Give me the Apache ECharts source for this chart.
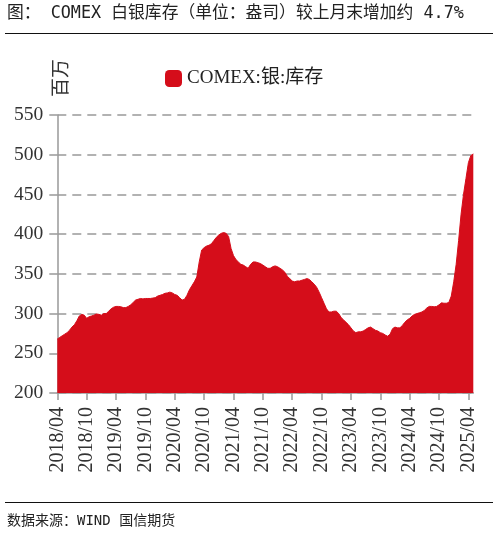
<!DOCTYPE html>
<html>
<head>
<meta charset="utf-8">
<script src="https://cdn.jsdelivr.net/npm/echarts@6/dist/echarts.min.js"></script>
<style>
html,body{margin:0;padding:0;background:#fff;}
#chart{width:499px;height:535px;}
</style>
</head>
<body>
<div id="chart"></div>
<script>
// Semi-monthly categories from 2018/04 to 2025/05
var categories = [];
for (var y = 2018, mo = 4; ; ) {
  var mm = (mo < 10 ? '0' : '') + mo;
  categories.push(y + '/' + mm + '/01');
  if (y === 2025 && mo === 5) break;
  categories.push(y + '/' + mm + '/16');
  mo++; if (mo > 12) { mo = 1; y++; }
}

// COMEX silver inventory (百万盎司), semi-monthly readings
var inventory = [
  268,270,272,274,276,279,283,286,291,297,299,298,294,296,297,298,299.5,299,298,300,
  300,303,306,308,309,309,308.5,307.5,307.5,309,311,314,317,318,319,318.5,319,319,319,319.5,
  320,322,323,324,325.5,326,327,326,324,323,320,317,318,323,330,335,340,346,365,380,
  383,385,386,388,392,396,399,401,402,401,397,382,373,368,365,362,361,359,357,362,
  365,365,364,363,361,359,357,357,359,360,359,357,355,352,347,344,341,340,341,341,
  342,343,344,343,340,337,333,327,320,313,306,302,302,303,303,300,295,292,289,286,
  282,278,276,277,277,278,280,282,283,281,279,278,276,275,273,271.5,274,281,283,282,
  282,285,289,292,294,297,299,300,301,302,304,307,309,309,308.5,309,311,313.5,313,313,
  314,322,340,362,392,425,450,470,490,499,501
];

var yTicks = { min: 200, max: 550, interval: 50 };
var seriesName = 'COMEX:银:库存';
var unitLabel = '百万';
var titleText = '图： COMEX 白银库存（单位：盎司）较上月末增加约 4.7%';
var sourceText = '数据来源：WIND 国信期货';

var red = '#d50d1a';
var chart = echarts.init(document.getElementById('chart'));
chart.setOption({
  animation: false,
  backgroundColor: '#fff',
  grid: { left: 57.3, right: 25.7, top: 115, bottom: 142 },
  legend: {
    data: [seriesName],
    left: 160, top: 64,
    icon: 'roundRect', itemWidth: 17, itemHeight: 17, itemGap: 6,
    textStyle: { fontFamily: 'Liberation Serif, Noto Sans CJK SC', fontSize: 19, color: '#222' }
  },
  xAxis: {
    type: 'category',
    data: categories,
    boundaryGap: false,
    axisLine: { lineStyle: { color: '#999', width: 1.5 } },
    axisTick: { show: true, interval: 11, length: 7, lineStyle: { color: '#999', width: 1.5 } },
    axisLabel: {
      interval: 11, rotate: 90, margin: 14,
      fontFamily: 'Liberation Serif', fontSize: 20, color: '#333',
      formatter: function (v) { return v.slice(0, 7); }
    },
    splitLine: { show: false }
  },
  yAxis: {
    type: 'value',
    min: yTicks.min, max: yTicks.max, interval: yTicks.interval,
    axisLine: { show: true, lineStyle: { color: '#999', width: 1.5 } },
    axisTick: { show: true, length: 8, lineStyle: { color: '#999', width: 1.5 } },
    axisLabel: { margin: 14, fontFamily: 'Liberation Serif', fontSize: 19.5, color: '#333' },
    splitLine: { show: true, lineStyle: { color: '#999', width: 1.5, type: [9, 6] } }
  },
  series: [{
    name: seriesName,
    type: 'line',
    data: inventory,
    showSymbol: false,
    smooth: false,
    itemStyle: { color: red },
    lineStyle: { color: red, width: 1 },
    areaStyle: { color: red, opacity: 1, origin: 'start' },
    z: 1
  }],
  graphic: [
    { type: 'text', left: 7, top: 5, style: { text: titleText, font: '16.8px "DejaVu Sans Mono", "Noto Sans CJK SC"', fill: '#222' } },
    { type: 'line', shape: { x1: 5, y1: 33.5, x2: 493, y2: 33.5 }, style: { stroke: '#111', lineWidth: 1.2 } },
    { type: 'text', x: 60, y: 78, rotation: Math.PI / 2,
      style: { text: unitLabel, font: '19px "Noto Sans CJK SC"', fill: '#333', align: 'center', verticalAlign: 'middle' } },
    { type: 'line', shape: { x1: 5, y1: 502.5, x2: 493, y2: 502.5 }, style: { stroke: '#111', lineWidth: 1.2 } },
    { type: 'text', left: 7, top: 514, style: { text: sourceText, font: '14px "DejaVu Sans Mono", "Noto Sans CJK SC"', fill: '#222' } }
  ]
});
</script>
</body>
</html>
